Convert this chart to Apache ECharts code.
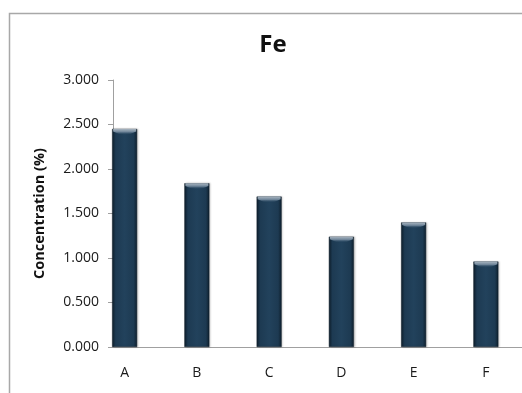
<!DOCTYPE html>
<html>
<head>
<meta charset="utf-8">
<script src="https://cdn.jsdelivr.net/npm/echarts@6/dist/echarts.min.js"></script>
<style>
  html, body { margin: 0; padding: 0; background: #fff; }
  #chart { width: 522px; height: 393px; }
</style>
</head>
<body>
<div id="chart"></div>
<script>
// Fe concentration per sample
const categories = ['A', 'B', 'C', 'D', 'E', 'F'];
const feValues = [2.45, 1.84, 1.69, 1.24, 1.40, 0.96];
const yTicks = { min: 0, max: 3, interval: 0.5 };

const FONT = '"Open Sans", "Liberation Sans", sans-serif';
const chart = echarts.init(document.getElementById('chart'), null, { renderer: 'canvas' });

// bar body: darker side edges, flat navy face
const barFill = new echarts.graphic.LinearGradient(0, 0, 1, 0, [
  { offset: 0, color: '#0e1f2d' },
  { offset: 0.14, color: '#1d3a52' },
  { offset: 0.5, color: '#22425c' },
  { offset: 0.86, color: '#1d3a52' },
  { offset: 1, color: '#0e1f2d' }
]);
// bevel highlight on top of each bar
const capFill = new echarts.graphic.LinearGradient(0, 0, 0, 1, [
  { offset: 0, color: '#a9b5c0' },
  { offset: 0.5, color: '#6f8599' },
  { offset: 1, color: 'rgba(34,66,92,0)' }
]);

chart.setOption({
  backgroundColor: '#ffffff',
  animation: false,
  title: {
    text: 'Fe',
    left: 268,
    top: 28,
    textAlign: 'center',
    textStyle: { fontFamily: FONT, fontSize: 24, fontWeight: 'bold', color: '#111' }
  },
  graphic: [{
    type: 'rect',
    shape: { x: 9.5, y: 13.5, width: 530, height: 400 },
    style: { fill: 'none', stroke: '#a8a8a8', lineWidth: 1.5 },
    silent: true
  }],
  grid: [
    // frame grid: visible axis lines and value labels
    { left: 113, right: 0, top: 80, bottom: 46 },
    // bar grid: category bands
    { left: 88.5, width: 443.4, top: 80, bottom: 46 }
  ],
  xAxis: [
    {
      type: 'category', gridIndex: 0, data: categories,
      axisLine: { lineStyle: { color: '#a0a0a0', width: 1 } },
      axisTick: { show: false },
      axisLabel: { show: false }
    },
    {
      type: 'category', gridIndex: 1, data: categories,
      axisLine: { show: false },
      axisTick: { show: false },
      axisLabel: { fontFamily: FONT, fontSize: 14, color: '#1a1a1a', margin: 19 }
    }
  ],
  yAxis: [
    {
      type: 'value', gridIndex: 0,
      min: yTicks.min, max: yTicks.max, interval: yTicks.interval,
      name: 'Concentration (%)',
      nameLocation: 'middle',
      nameGap: 66,
      nameTextStyle: { fontFamily: FONT, fontSize: 14.5, fontWeight: 'bold', color: '#111' },
      axisLine: { show: true, lineStyle: { color: '#a0a0a0', width: 1 } },
      axisTick: { show: true, length: 5, lineStyle: { color: '#a0a0a0' } },
      splitLine: { show: false },
      axisLabel: {
        fontFamily: FONT, fontSize: 14, color: '#1a1a1a', margin: 14,
        formatter: v => v.toFixed(3)
      }
    },
    {
      type: 'value', gridIndex: 1,
      min: yTicks.min, max: yTicks.max, interval: yTicks.interval,
      show: false
    }
  ],
  series: [
    {
      type: 'bar',
      xAxisIndex: 1,
      yAxisIndex: 1,
      data: feValues,
      barWidth: 25,
      itemStyle: {
        color: barFill,
        borderColor: '#0e1c28',
        borderWidth: 0.5,
        shadowColor: 'rgba(0,0,0,0.2)',
        shadowBlur: 2,
        shadowOffsetX: 1
      },
      z: 2
    },
    {
      type: 'pictorialBar',
      xAxisIndex: 1,
      yAxisIndex: 1,
      data: feValues,
      symbol: 'path://M0,0 L20,0 L20,2 Q10,7 0,2 Z',
      symbolSize: [23, 6],
      symbolPosition: 'end',
      symbolOffset: [0, 0],
      itemStyle: { color: capFill },
      silent: true,
      z: 3
    }
  ]
});
</script>
</body>
</html>
